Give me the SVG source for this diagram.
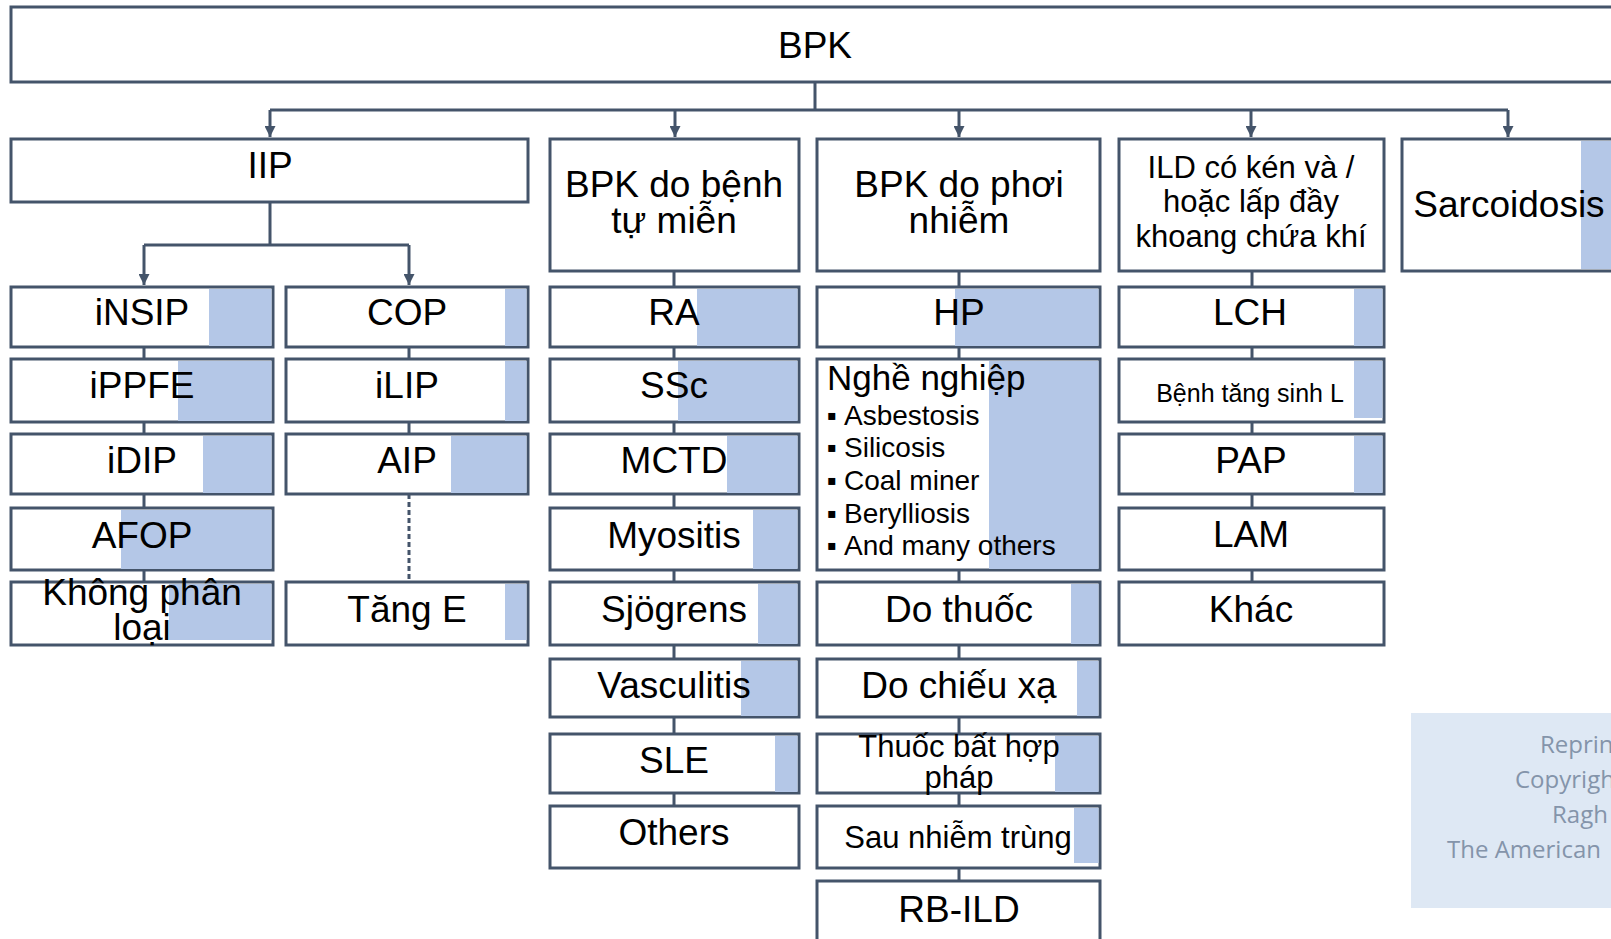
<svg xmlns="http://www.w3.org/2000/svg" width="1611" height="939" viewBox="0 0 1611 939">
<style>
.n{fill:#fff;stroke:#44546A;stroke-width:3}
.hl{fill:#B4C7E7;stroke:none}
.t{font-family:"Liberation Sans",Arial,sans-serif;font-size:37px;fill:#000;text-anchor:middle}
.s{font-size:31px}
.b{font-size:28px;text-anchor:start}
.c{fill:none;stroke:#44546A;stroke-width:3}
.d{stroke-dasharray:5 3}
.wm{font-family:"Open Sans","Liberation Sans",sans-serif;font-size:24px;fill:#8494AA}
</style>
<defs>
<marker id="ah" viewBox="0 0 10 10" refX="10" refY="5" markerWidth="12" markerHeight="11" markerUnits="userSpaceOnUse" orient="auto"><path d="M0,0 L10,5 L0,10 z" fill="#44546A"/></marker>
</defs>
<rect width="1611" height="939" fill="#fff"/>
<g id="connectors">
<path class="c" d="M815,82 V110 M270,110 H1508"/>
<path class="c" marker-end="url(#ah)" d="M270,110 V137"/>
<path class="c" marker-end="url(#ah)" d="M675,110 V137"/>
<path class="c" marker-end="url(#ah)" d="M959,110 V137"/>
<path class="c" marker-end="url(#ah)" d="M1251,110 V137"/>
<path class="c" marker-end="url(#ah)" d="M1508,110 V137"/>
<path class="c" d="M270,202 V245 M144,245 H409"/>
<path class="c" marker-end="url(#ah)" d="M144,245 V285"/>
<path class="c" marker-end="url(#ah)" d="M409,245 V285"/>
<path class="c" d="M144,347 V359 M144,422 V434 M144,494 V508 M144,570 V582"/>
<path class="c" d="M409,347 V359 M409,422 V434"/>
<path class="c d" d="M409,494 V582"/>
<path class="c" d="M674,271 V287 M674,347 V359 M674,422 V434 M674,494 V508 M674,570 V582 M674,645 V659 M674,717 V734 M674,793 V806"/>
<path class="c" d="M959,271 V287 M959,347 V359 M959,570 V582 M959,645 V659 M959,717 V734 M959,793 V806 M959,868 V881"/>
<path class="c" d="M1252,271 V287 M1252,347 V359 M1252,422 V434 M1252,494 V508 M1252,570 V582"/>
</g>
<g id="bpk"><rect class="n" x="11" y="7" width="1620" height="75"/><text class="t" x="815" y="58">BPK</text></g>
<g id="iip"><rect class="n" x="11" y="139" width="517" height="63"/><text class="t" x="270" y="178">IIP</text></g>
<g id="autoimmune"><rect class="n" x="550" y="139" width="249" height="132"/><text class="t" x="674" y="197">BPK do bệnh</text><text class="t" x="674" y="233">tự miễn</text></g>
<g id="exposure"><rect class="n" x="817" y="139" width="283" height="132"/><text class="t" x="959" y="197">BPK do phơi</text><text class="t" x="959" y="233">nhiễm</text></g>
<g id="ild"><rect class="n" x="1119" y="139" width="265" height="132"/><text class="t s" x="1251" y="178">ILD có kén và /</text><text class="t s" x="1251" y="212">hoặc lấp đầy</text><text class="t s" x="1251" y="247">khoang chứa khí</text></g>
<g id="sarcoidosis"><rect class="n" x="1402" y="139" width="230" height="132"/><rect class="hl" x="1581" y="141" width="40" height="128"/><text class="t" x="1509" y="217">Sarcoidosis</text></g>

<g id="insip"><rect class="n" x="11" y="287" width="262" height="60"/><rect class="hl" x="209" y="289" width="62.5" height="57"/><text class="t" x="142" y="325">iNSIP</text></g>
<g id="ippfe"><rect class="n" x="11" y="359" width="262" height="63"/><rect class="hl" x="178" y="361" width="93.5" height="60"/><text class="t" x="142" y="398">iPPFE</text></g>
<g id="idip"><rect class="n" x="11" y="434" width="262" height="60"/><rect class="hl" x="203" y="436" width="68.5" height="57"/><text class="t" x="142" y="473">iDIP</text></g>
<g id="afop"><rect class="n" x="11" y="508" width="262" height="62"/><rect class="hl" x="121" y="510" width="150.5" height="59"/><text class="t" x="142" y="548">AFOP</text></g>
<g id="unclassified"><rect class="n" x="11" y="582" width="262" height="63"/><rect class="hl" x="169" y="584" width="102.5" height="56"/><text class="t" x="142" y="605">Không phân</text><text class="t" x="142" y="640">loại</text></g>

<g id="cop"><rect class="n" x="286" y="287" width="242" height="60"/><rect class="hl" x="505" y="289" width="21.5" height="57"/><text class="t" x="407" y="325">COP</text></g>
<g id="ilip"><rect class="n" x="286" y="359" width="242" height="63"/><rect class="hl" x="505" y="361" width="21.5" height="60"/><text class="t" x="407" y="398">iLIP</text></g>
<g id="aip"><rect class="n" x="286" y="434" width="242" height="60"/><rect class="hl" x="451" y="436" width="75.5" height="57"/><text class="t" x="407" y="473">AIP</text></g>
<g id="tange"><rect class="n" x="286" y="582" width="242" height="63"/><rect class="hl" x="505" y="584" width="21.5" height="56"/><text class="t" x="407" y="622">Tăng E</text></g>

<g id="ra"><rect class="n" x="550" y="287" width="249" height="60"/><rect class="hl" x="697" y="289" width="100.5" height="57"/><text class="t" x="674" y="325">RA</text></g>
<g id="ssc"><rect class="n" x="550" y="359" width="249" height="63"/><rect class="hl" x="678" y="361" width="119.5" height="60"/><text class="t" x="674" y="398">SSc</text></g>
<g id="mctd"><rect class="n" x="550" y="434" width="249" height="60"/><rect class="hl" x="727" y="436" width="70.5" height="57"/><text class="t" x="674" y="473">MCTD</text></g>
<g id="myositis"><rect class="n" x="550" y="508" width="249" height="62"/><rect class="hl" x="753" y="510" width="44.5" height="59"/><text class="t" x="674" y="548">Myositis</text></g>
<g id="sjogrens"><rect class="n" x="550" y="582" width="249" height="63"/><rect class="hl" x="758" y="584" width="39.5" height="60"/><text class="t" x="674" y="622">Sjögrens</text></g>
<g id="vasculitis"><rect class="n" x="550" y="659" width="249" height="58"/><rect class="hl" x="741" y="661" width="56.5" height="55"/><text class="t" x="674" y="698">Vasculitis</text></g>
<g id="sle"><rect class="n" x="550" y="734" width="249" height="59"/><rect class="hl" x="775" y="736" width="22.5" height="56"/><text class="t" x="674" y="773">SLE</text></g>
<g id="others"><rect class="n" x="550" y="806" width="249" height="62"/><text class="t" x="674" y="845">Others</text></g>

<g id="hp"><rect class="n" x="817" y="287" width="283" height="60"/><rect class="hl" x="955" y="289" width="143.5" height="57"/><text class="t" x="959" y="325">HP</text></g>
<g id="occupational"><rect class="n" x="817" y="359" width="283" height="211"/><rect class="hl" x="989" y="361" width="109.5" height="208"/>
<text class="t" x="827" y="390" style="text-anchor:start;font-size:35px">Nghề nghiệp</text>
<text class="t b" x="827" y="425">▪</text><text class="t b" x="844" y="425">Asbestosis</text>
<text class="t b" x="827" y="457">▪</text><text class="t b" x="844" y="457">Silicosis</text>
<text class="t b" x="827" y="490">▪</text><text class="t b" x="844" y="490">Coal miner</text>
<text class="t b" x="827" y="523">▪</text><text class="t b" x="844" y="523">Berylliosis</text>
<text class="t b" x="827" y="555">▪</text><text class="t b" x="844" y="555">And many others</text></g>
<g id="drug"><rect class="n" x="817" y="582" width="283" height="63"/><rect class="hl" x="1071" y="584" width="27.5" height="60"/><text class="t" x="959" y="622">Do thuốc</text></g>
<g id="radiation"><rect class="n" x="817" y="659" width="283" height="58"/><rect class="hl" x="1077" y="661" width="21.5" height="55"/><text class="t" x="959" y="698">Do chiếu xạ</text></g>
<g id="illicit"><rect class="n" x="817" y="734" width="283" height="59"/><rect class="hl" x="1055" y="736" width="43.5" height="56"/><text class="t s" x="959" y="757">Thuốc bất hợp</text><text class="t s" x="959" y="788">pháp</text></g>
<g id="postinfection"><rect class="n" x="817" y="806" width="283" height="62"/><rect class="hl" x="1074" y="808" width="24.5" height="55"/><text class="t s" x="958" y="848">Sau nhiễm trùng</text></g>
<g id="rbild"><rect class="n" x="817" y="881" width="283" height="80"/><text class="t" x="959" y="922">RB-ILD</text></g>

<g id="lch"><rect class="n" x="1119" y="287" width="265" height="60"/><rect class="hl" x="1354" y="289" width="28.5" height="57"/><text class="t" x="1250" y="325">LCH</text></g>
<g id="lymphoproliferative"><rect class="n" x="1119" y="359" width="265" height="63"/><rect class="hl" x="1354" y="361" width="28.5" height="57"/><text class="t" x="1250" y="402" style="font-size:25px">Bệnh tăng sinh L</text></g>
<g id="pap"><rect class="n" x="1119" y="434" width="265" height="60"/><rect class="hl" x="1354" y="436" width="28.5" height="57"/><text class="t" x="1251" y="473">PAP</text></g>
<g id="lam"><rect class="n" x="1119" y="508" width="265" height="62"/><text class="t" x="1251" y="547">LAM</text></g>
<g id="other"><rect class="n" x="1119" y="582" width="265" height="63"/><text class="t" x="1251" y="622">Khác</text></g>

<g id="watermark"><rect x="1411" y="713" width="210" height="195" fill="#DEE8F4"/>
<text class="wm" x="1540" y="753">Reprin</text>
<text class="wm" x="1515" y="788">Copyrigh</text>
<text class="wm" x="1552" y="823">Ragh</text>
<text class="wm" x="1447" y="858">The American</text></g>
</svg>
